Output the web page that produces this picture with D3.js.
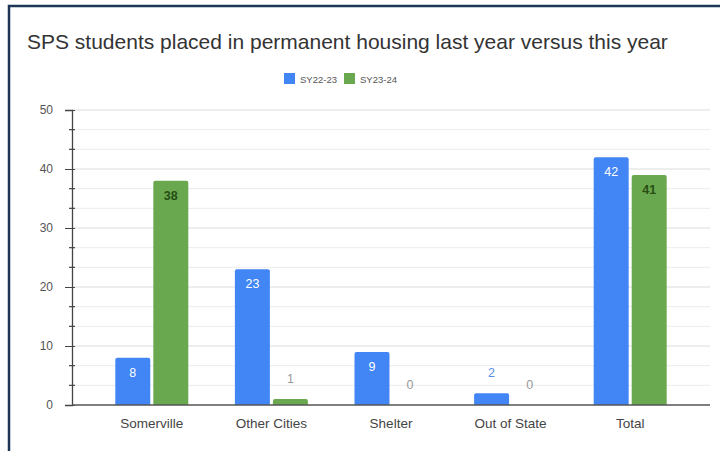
<!DOCTYPE html>
<html>
<head>
<meta charset="utf-8">
<script src="https://cdn.jsdelivr.net/npm/d3@7"></script>
<style>
  body { margin: 0; background: #fff; }
  svg { display: block; font-family: "Liberation Sans", Arial, sans-serif; }
</style>
</head>
<body>
<svg id="chart"></svg>
<script>
// chart data
const categories = ["Somerville", "Other Cities", "Shelter", "Out of State", "Total"]
const seriesNames = ["SY22-23", "SY23-24"]
const sy2223 = [8, 23, 9, 2, 42]
const sy2324 = [38, 1, 0, 0, 39]
// labels as printed on the bars (the Total green label reads 41)
const sy2223Labels = ["8", "23", "9", "2", "42"]
const sy2324Labels = ["38", "1", "0", "0", "41"]
const yTicks = [0, 10, 20, 30, 40, 50]

const W = 720, H = 451
const colors = { "SY22-23": "#4285f4", "SY23-24": "#6aa84f" }
const insideColor = { "SY22-23": "#ffffff", "SY23-24": "#274e13" }
const outsideColor = { "SY22-23": "#5b8ee6", "SY23-24": "#9a9a9a" }

const svg = d3.select("#chart").attr("width", W).attr("height", H)

svg.append("rect").attr("width", W).attr("height", H).attr("fill", "#fff")

// frame (cropped on the right and bottom)
svg.append("rect")
  .attr("x", 9).attr("y", 6).attr("width", W + 20).attr("height", H + 20)
  .attr("fill", "none").attr("stroke", "#1d3557").attr("stroke-width", 2.5)

svg.append("text")
  .attr("x", 27).attr("y", 49)
  .attr("fill", "#333").style("font-size", "21px")
  .text("SPS students placed in permanent housing last year versus this year")

const y = d3.scaleLinear().domain([0, 50]).range([405, 110])
const x0 = d3.scaleBand().domain(categories).range([92, 690])
const step = x0.bandwidth()
const x1 = d3.scaleBand().domain(seriesNames)
  .range([step / 2 - 36.5, step / 2 + 36.5]).paddingInner(0.08)

const axisLeftX = 72, gridRight = 710

// minor values between the major ticks
const minorTicks = []
yTicks.slice(0, -1).forEach((t, i) => {
  const gap = (yTicks[i + 1] - t) / 3
  minorTicks.push(t + gap, t + 2 * gap)
})

svg.append("g").selectAll("line").data(minorTicks).join("line")
  .attr("x1", axisLeftX).attr("x2", gridRight)
  .attr("y1", d => y(d)).attr("y2", d => y(d))
  .attr("stroke", "#ececec").attr("stroke-width", 1)

svg.append("g").selectAll("line").data(yTicks.slice(1)).join("line")
  .attr("x1", axisLeftX).attr("x2", gridRight)
  .attr("y1", d => y(d)).attr("y2", d => y(d))
  .attr("stroke", "#dcdcdc").attr("stroke-width", 1)

// y axis
const yAxisGroup = svg.append("g")
  .attr("transform", `translate(${axisLeftX},0)`)
  .call(d3.axisLeft(y).tickValues(yTicks).tickSize(7).tickPadding(12))
yAxisGroup.select(".domain").attr("stroke", "#444").attr("stroke-width", 1.3)
yAxisGroup.selectAll(".tick line").attr("stroke", "#444").attr("x2", -7).attr("x1", 3)
yAxisGroup.selectAll("text").attr("fill", "#555").style("font-size", "12px").attr("font-family", null)

yAxisGroup.append("g").selectAll("line").data(minorTicks).join("line")
  .attr("x1", -3).attr("x2", 3)
  .attr("y1", d => y(d)).attr("y2", d => y(d))
  .attr("stroke", "#444").attr("stroke-width", 1.2)

// bars
const groups = svg.append("g").selectAll("g").data(categories).join("g")
  .attr("transform", d => `translate(${x0(d)},0)`)

const barData = (c, i) => [
  { s: "SY22-23", v: sy2223[i], label: sy2223Labels[i] },
  { s: "SY23-24", v: sy2324[i], label: sy2324Labels[i] }
]

groups.selectAll("path").data(barData).join("path")
  .attr("fill", d => colors[d.s])
  .attr("d", d => {
    const bx = x1(d.s), bw = x1.bandwidth(), top = y(d.v), bottom = y(0)
    const r = Math.min(2, (bottom - top) / 2)
    if (bottom - top <= 0) return ""
    return `M${bx},${bottom} L${bx},${top + r} Q${bx},${top} ${bx + r},${top}
      L${bx + bw - r},${top} Q${bx + bw},${top} ${bx + bw},${top + r} L${bx + bw},${bottom} Z`
  })

groups.selectAll("text").data(barData).join("text")
  .attr("x", d => x1(d.s) + x1.bandwidth() / 2)
  .attr("y", d => d.v >= 5 ? y(d.v) + 19 : y(d.v) - 16)
  .attr("text-anchor", "middle")
  .style("font-size", "12.5px")
  .style("font-weight", d => d.s === "SY23-24" && d.v >= 5 ? "bold" : "normal")
  .attr("fill", d => d.v >= 5 ? insideColor[d.s] : outsideColor[d.s])
  .text(d => d.label)

// x axis
svg.append("line")
  .attr("x1", axisLeftX).attr("x2", gridRight)
  .attr("y1", y(0)).attr("y2", y(0))
  .attr("stroke", "#555").attr("stroke-width", 1.3)

const xAxisGroup = svg.append("g")
  .attr("transform", `translate(0,${y(0)})`)
  .call(d3.axisBottom(x0).tickSize(0).tickPadding(13))
xAxisGroup.select(".domain").remove()
xAxisGroup.selectAll("text").attr("fill", "#444").style("font-size", "13.5px").attr("font-family", null)

// legend
const legend = svg.append("g").attr("transform", "translate(284,73)")
const legendX = [0, 60]
seriesNames.forEach((s, i) => {
  legend.append("rect").attr("x", legendX[i]).attr("y", 0)
    .attr("width", 11).attr("height", 11).attr("fill", colors[s])
  legend.append("text").attr("x", legendX[i] + 16).attr("y", 9.5)
    .attr("fill", "#555").style("font-size", "9.5px").text(s)
})
</script>
</body>
</html>
